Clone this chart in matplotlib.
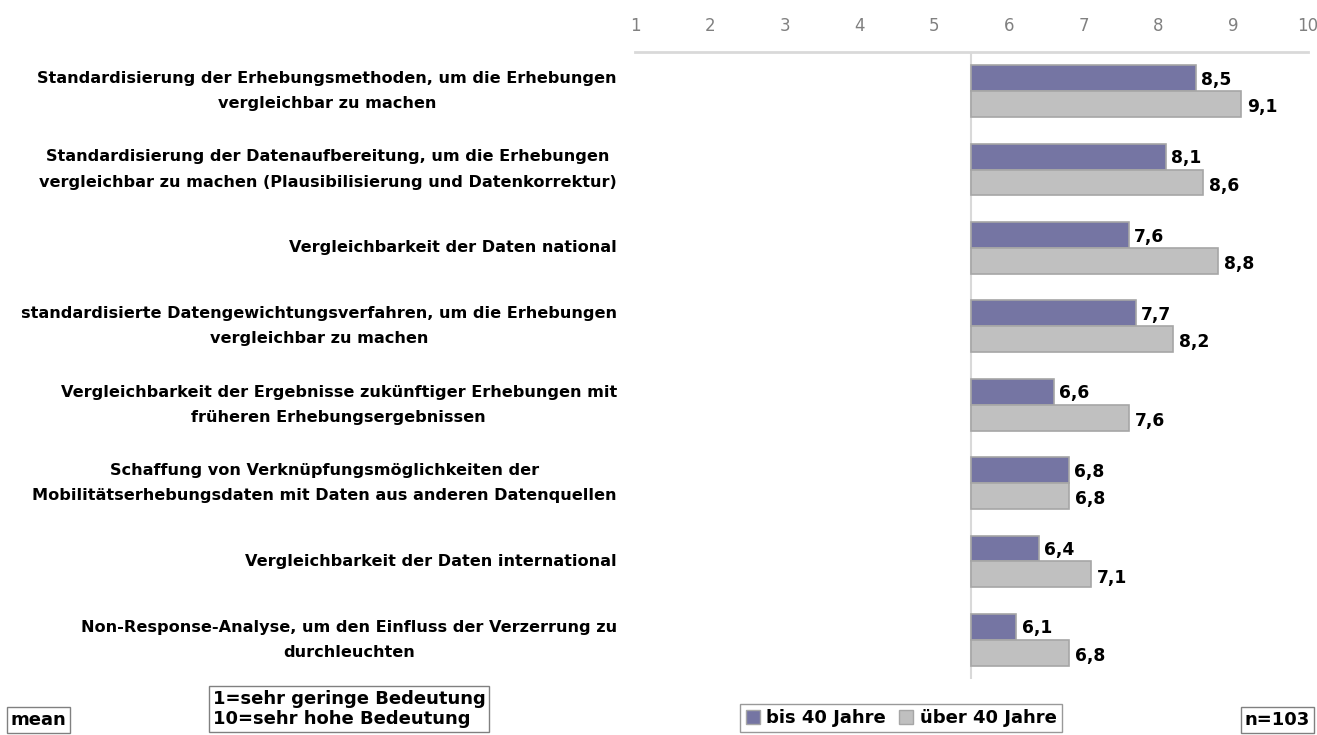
import numpy as np
import matplotlib
matplotlib.use("Agg")
import matplotlib.pyplot as plt
from matplotlib.patches import Patch

# Daten
kategorien = [
    "Standardisierung der Erhebungsmethoden, um die Erhebungen\nvergleichbar zu machen",
    "Standardisierung der Datenaufbereitung, um die Erhebungen\nvergleichbar zu machen (Plausibilisierung und Datenkorrektur)",
    "Vergleichbarkeit der Daten national",
    "standardisierte Datengewichtungsverfahren, um die Erhebungen\nvergleichbar zu machen",
    "Vergleichbarkeit der Ergebnisse zukünftiger Erhebungen mit\nfrüheren Erhebungsergebnissen",
    "Schaffung von Verknüpfungsmöglichkeiten der\nMobilitätserhebungsdaten mit Daten aus anderen Datenquellen",
    "Vergleichbarkeit der Daten international",
    "Non-Response-Analyse, um den Einfluss der Verzerrung zu\ndurchleuchten",
]
bis40 = [8.5, 8.1, 7.6, 7.7, 6.6, 6.8, 6.4, 6.1]
ueber40 = [9.1, 8.6, 8.8, 8.2, 7.6, 6.8, 7.1, 6.8]
serien = ["bis 40 Jahre", "über 40 Jahre"]
xticks = list(range(1, 11))
basis = 5.5

farbe_lila = "#7575A3"
farbe_grau = "#C0C0C0"
rand = "#A6A6A6"

W, H = 1317, 735
fig = plt.figure(figsize=(W / 100, H / 100), dpi=100)
ax = fig.add_axes([635 / W, 1 - 679 / H, (1308 - 635) / W, (679 - 52) / H])

y = np.arange(len(kategorien))
h = 0.33
ax.barh(y - h / 2, np.array(bis40) - basis, left=basis, height=h,
        color=farbe_lila, edgecolor=rand, linewidth=1.2)
ax.barh(y + h / 2, np.array(ueber40) - basis, left=basis, height=h,
        color=farbe_grau, edgecolor=rand, linewidth=1.2)

for i in range(len(kategorien)):
    ax.text(bis40[i] + 0.07, y[i] - h / 2 + 0.02, ("%.1f" % bis40[i]).replace(".", ","),
            va="center", ha="left", fontsize=12.3, fontweight="bold")
    ax.text(ueber40[i] + 0.08, y[i] + h / 2 + 0.04, ("%.1f" % ueber40[i]).replace(".", ","),
            va="center", ha="left", fontsize=12.3, fontweight="bold")
    ax.text(-0.027, y[i], kategorien[i], transform=ax.get_yaxis_transform(),
            ha="right", va="center", multialignment="center",
            fontsize=11.6, fontweight="bold", linespacing=1.85)

ax.axvline(basis, color="#D9D9D9", linewidth=1.5, zorder=0)

ax.set_xlim(1, 10)
ax.set_ylim(len(kategorien) - 0.5, -0.5)
ax.set_xticks(xticks)
ax.xaxis.tick_top()
ax.tick_params(axis="x", length=0, pad=12, labelsize=12, labelcolor="#808080")
ax.set_yticks([])
for s in ["left", "right", "bottom"]:
    ax.spines[s].set_visible(False)
ax.spines["top"].set_color("#D9D9D9")
ax.spines["top"].set_linewidth(2)

box = dict(boxstyle="square,pad=0.2", facecolor="white", edgecolor="#808080", linewidth=1)
fig.text(11 / W, 1 - 720 / H, "mean", ha="left", va="center",
         fontsize=13, fontweight="bold", bbox=box)
fig.text(213 / W, 1 - 709 / H, "1=sehr geringe Bedeutung\n10=sehr hohe Bedeutung",
         ha="left", va="center", fontsize=13, fontweight="bold",
         linespacing=1.15, bbox=box)
fig.text(1310 / W, 1 - 720 / H, "n=103", ha="right", va="center",
         fontsize=13, fontweight="bold", bbox=box)

handles = [Patch(facecolor=farbe_lila, edgecolor=rand),
           Patch(facecolor=farbe_grau, edgecolor=rand)]
leg = fig.legend(handles, serien, loc="center", bbox_to_anchor=(901 / W, 1 - 718 / H),
                 ncol=2, frameon=True, fancybox=False, handlelength=0.8, handleheight=0.8,
                 handletextpad=0.35, columnspacing=0.7, borderpad=0.3,
                 prop={"weight": "bold", "size": 13})
leg.get_frame().set_edgecolor("#808080")
leg.get_frame().set_linewidth(1)

fig.savefig("out.png", dpi=100)
